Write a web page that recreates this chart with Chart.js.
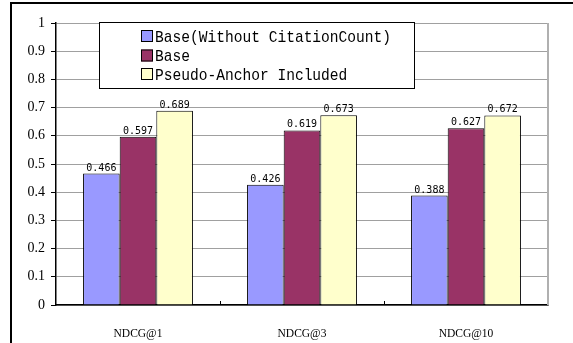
<!DOCTYPE html>
<html>
<head>
<meta charset="utf-8">
<script src="https://cdn.jsdelivr.net/npm/chart.js@4"></script>
<style>
  html, body { margin: 0; padding: 0; background: #fff; }
  #wrap { width: 573px; height: 343px; position: relative; }
</style>
</head>
<body>
<div id="wrap"><canvas id="c" width="573" height="343"></canvas></div>
<script>
const categories = ['NDCG@1', 'NDCG@3', 'NDCG@10'];
const seriesNames = ['Base(Without CitationCount)', 'Base', 'Pseudo-Anchor Included'];
const withoutCitation = [0.466, 0.426, 0.388];
const base = [0.597, 0.619, 0.627];
const pseudoAnchor = [0.689, 0.673, 0.672];
const yTickValues = [0, 0.1, 0.2, 0.3, 0.4, 0.5, 0.6, 0.7, 0.8, 0.9, 1];
const yTickLabels = ['0', '0.1', '0.2', '0.3', '0.4', '0.5', '0.6', '0.7', '0.8', '0.9', '1'];

const colors = ['#9999ff', '#993366', '#ffffcc'];

// outer frame (only top/left visible in the crop)
const framePlugin = {
    id: 'frame',
    afterDraw(chart) {
        const ctx = chart.ctx;
        ctx.save();
        ctx.strokeStyle = '#000';
        ctx.lineWidth = 2;
        ctx.beginPath();
        ctx.moveTo(11, 343);
        ctx.lineTo(11, 3);
        ctx.lineTo(573, 3);
        ctx.stroke();
        ctx.restore();
    }
};

// gray right edge of plot + small inside ticks between categories
const plotEdges = {
    id: 'plotEdges',
    beforeDatasetsDraw(chart) {
        const { ctx, chartArea } = chart;
        const x = chart.scales.x;
        ctx.save();
        ctx.strokeStyle = '#b0b0b0';
        ctx.lineWidth = 2;
        ctx.beginPath();
        ctx.moveTo(chartArea.right, chartArea.top);
        ctx.lineTo(chartArea.right, chartArea.bottom);
        ctx.stroke();
        ctx.strokeStyle = '#000';
        ctx.lineWidth = 1;
        for (let i = 1; i < categories.length; i++) {
            const bx = Math.round((x.getPixelForTick(i - 1) + x.getPixelForTick(i)) / 2) + 0.5;
            ctx.beginPath();
            ctx.moveTo(bx, chartArea.bottom);
            ctx.lineTo(bx, chartArea.bottom - 4);
            ctx.stroke();
        }
        ctx.restore();
    }
};

const valueLabels = {
    id: 'valueLabels',
    afterDatasetsDraw(chart) {
        const ctx = chart.ctx;
        ctx.save();
        ctx.font = '10px "DejaVu Sans Mono"';
        ctx.fillStyle = '#000';
        ctx.textAlign = 'center';
        ctx.textBaseline = 'alphabetic';
        chart.data.datasets.forEach((ds, di) => {
            chart.getDatasetMeta(di).data.forEach((el, i) => {
                ctx.fillText(ds.data[i].toFixed(3), el.x, el.y - 3);
            });
        });
        ctx.restore();
    }
};

const boxLegend = {
    id: 'boxLegend',
    afterDraw(chart) {
        const ctx = chart.ctx;
        const left = 99.5, top = 22.5, right = 414.5, bottom = 88.5;
        ctx.save();
        ctx.fillStyle = '#fff';
        ctx.fillRect(left, top, right - left, bottom - top);
        ctx.strokeStyle = '#000';
        ctx.lineWidth = 1;
        ctx.strokeRect(left, top, right - left, bottom - top);
        const rows = [36, 55.5, 74];
        chart.data.datasets.forEach((ds, i) => {
            const cy = rows[i];
            ctx.fillStyle = ds.backgroundColor;
            ctx.fillRect(141, cy - 6, 12, 12);
            ctx.strokeStyle = '#000';
            ctx.strokeRect(141.5, cy - 5.5, 11, 11);
            ctx.save();
            ctx.translate(155, cy);
            ctx.scale(0.857, 1);
            ctx.font = '17px "Liberation Mono"';
            ctx.fillStyle = '#000';
            ctx.textBaseline = 'middle';
            ctx.fillText(ds.label, 0, 1);
            ctx.restore();
        });
        ctx.restore();
    }
};

const series = [withoutCitation, base, pseudoAnchor];

new Chart(document.getElementById('c').getContext('2d'), {
    type: 'bar',
    data: {
        labels: categories,
        datasets: series.map((vals, i) => ({
            label: seriesNames[i],
            data: vals,
            backgroundColor: colors[i],
            borderColor: '#000',
            borderWidth: 1,
            categoryPercentage: 0.67,
            barPercentage: 1
        }))
    },
    options: {
        responsive: false,
        animation: false,
        layout: { padding: { left: 0, right: 25, top: 23, bottom: 0 } },
        scales: {
            x: {
                afterFit(scale) { scale.height = 38; },
                grid: { display: false },
                border: { display: true, color: '#000', width: 1.5 },
                ticks: {
                    color: '#000',
                    padding: 14,
                    font: { family: '"Liberation Serif"', size: 11.5 }
                }
            },
            y: {
                min: 0,
                max: 1,
                afterFit(scale) { scale.width = 56; },
                afterBuildTicks(scale) {
                    scale.ticks = yTickValues.map(v => ({ value: v }));
                },
                grid: {
                    color: '#a0a0a0',
                    lineWidth: 1,
                    tickColor: '#000',
                    tickLength: 5
                },
                border: { display: true, color: '#000', width: 1.5 },
                ticks: {
                    color: '#000',
                    padding: 6,
                    font: { family: '"Liberation Serif"', size: 14 },
                    callback: (v, i) => yTickLabels[i]
                }
            }
        },
        plugins: {
            legend: { display: false },
            tooltip: { enabled: false }
        }
    },
    plugins: [plotEdges, valueLabels, boxLegend, framePlugin]
});
</script>
</body>
</html>
